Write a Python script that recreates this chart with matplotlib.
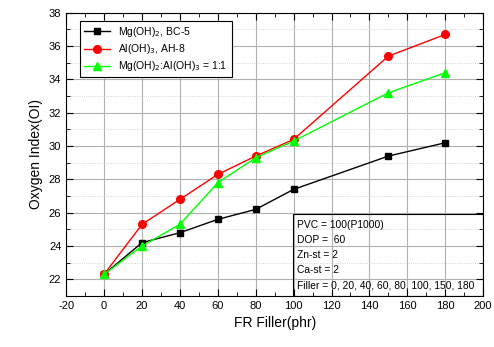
import matplotlib.pyplot as plt
from matplotlib.ticker import MultipleLocator
from matplotlib.patches import Rectangle

plt.rcParams['font.family'] = ['Liberation Sans', 'DejaVu Sans']
plt.rcParams['axes.unicode_minus'] = False

filler = [0, 20, 40, 60, 80, 100, 150, 180]
mg_oh = [22.3, 24.2, 24.8, 25.6, 26.2, 27.4, 29.4, 30.2]
al_oh = [22.3, 25.3, 26.8, 28.3, 29.4, 30.4, 35.4, 36.7]
mix = [22.3, 24.0, 25.3, 27.8, 29.3, 30.3, 33.2, 34.4]

fig = plt.figure(figsize=(4.94, 3.47), dpi=100)
ax = fig.add_axes([0.134, 0.147, 0.844, 0.816])

ax.plot(filler, mg_oh, color='black', marker='s', ms=5, lw=1, label='Mg(OH)$_2$, BC-5')
ax.plot(filler, al_oh, color='red', marker='o', ms=5.5, lw=1, label='Al(OH)$_3$, AH-8')
ax.plot(filler, mix, color='#00ff00', marker='^', ms=5.5, lw=1, label='Mg(OH)$_2$:Al(OH)$_3$ = 1:1')

ax.set_xlim(-20, 200)
ax.set_ylim(21, 38)
ax.xaxis.set_major_locator(MultipleLocator(20))
ax.xaxis.set_minor_locator(MultipleLocator(10))
ax.yaxis.set_major_locator(MultipleLocator(2))
ax.yaxis.set_minor_locator(MultipleLocator(1))
ax.tick_params(which='both', direction='in', top=True, right=True, labelsize=8)
ax.tick_params(which='major', length=5)
ax.tick_params(which='minor', length=3)
ax.grid(True, which='major', color='#b0b0b0', lw=0.8)
ax.grid(True, which='minor', axis='y', color='#c8c8c8', lw=0.6, ls=':')
ax.set_axisbelow(True)

ax.set_xlabel('FR Filler(phr)', fontsize=10)
ax.set_ylabel('Oxygen Index(OI)', fontsize=10)

leg = ax.legend(loc='upper left', fontsize=7.5, fancybox=False, edgecolor='black',
                framealpha=1, borderaxespad=0.5, handlelength=2.5,
                labelspacing=0.3, bbox_to_anchor=(0.02, 0.99))
leg.get_frame().set_linewidth(0.8)

# info box in lower right corner (no fill, grid shows through)
ax.add_patch(Rectangle((0.544, 0), 0.456, 0.29, transform=ax.transAxes,
                       fc='none', ec='black', lw=0.8, zorder=3))
note = ('PVC = 100(P1000)\nDOP =  60\nZn-st = 2\nCa-st = 2\n'
        'Filler = 0, 20, 40, 60, 80, 100, 150, 180')
ax.text(0.553, 0.02, note, transform=ax.transAxes, fontsize=7.4, va='bottom', ha='left',
        linespacing=1.65, zorder=4)

fig.savefig('out.png', dpi=100)
